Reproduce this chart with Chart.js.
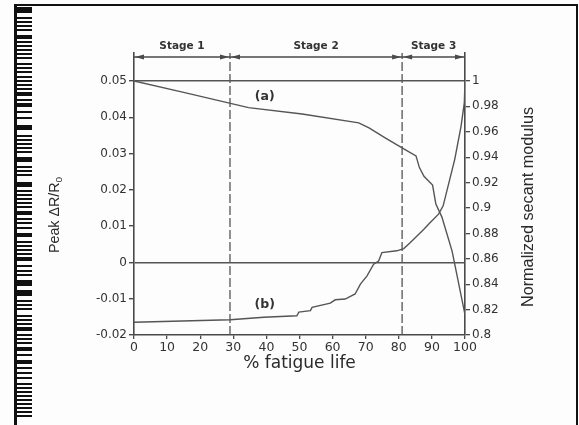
<!DOCTYPE html>
<html>
<head>
<meta charset="utf-8">
<script src="https://cdn.jsdelivr.net/npm/chart.js@4.4.1/dist/chart.umd.min.js"></script>
<style>
  html, body { margin: 0; padding: 0; background: #fdfdfd; }
  canvas { display: block; }
</style>
</head>
<body>
<canvas id="fatigueChart" width="579" height="425"></canvas>
<script>
// curve (a): normalized secant modulus vs % fatigue life
const lifeA = [0, 15, 29.8, 34.6, 50.8, 67.9, 71, 76, 81.9, 85.2, 86.2, 87.6, 90.2, 91.2, 93, 96.1, 100];
const secantModulus = [1, 0.991, 0.982, 0.979, 0.974, 0.967, 0.963, 0.955, 0.946, 0.941, 0.932, 0.925, 0.918, 0.903, 0.893, 0.866, 0.816];

// curve (b): peak dR/R0 vs % fatigue life
const lifeB = [0, 29.1, 39.2, 49.2, 49.8, 53.3, 53.8, 59.3, 60.8, 63.8, 66.8, 68.4, 70.4, 72.4, 73.9, 74.9, 79.4, 81.5, 83.5, 85.5, 87.5, 89.5, 92, 93.4, 96.9, 98.8, 99.8, 100];
const peakDeltaR = [-0.0165, -0.0158, -0.0151, -0.0147, -0.0137, -0.0133, -0.0124, -0.0112, -0.0103, -0.0101, -0.0087, -0.006, -0.0037, -0.0005, 0.0004, 0.0027, 0.0032, 0.0038, 0.0055, 0.0073, 0.0091, 0.011, 0.0133, 0.0156, 0.0284, 0.0375, 0.044, 0.05];

// stage boundaries (% fatigue life)
const stageBounds = [0, 29, 81, 100];
const stageNames = ['Stage 1', 'Stage 2', 'Stage 3'];

const lifeTicks = [0, 10, 20, 30, 40, 50, 60, 70, 80, 90, 100];
const leftTicks = [-0.02, -0.01, 0, 0.01, 0.02, 0.03, 0.04, 0.05];
const rightTicks = [0.8, 0.82, 0.84, 0.86, 0.88, 0.9, 0.92, 0.94, 0.96, 0.98, 1];

// axes run a little past 0.05 / 1 so the stage bar fits above the top line
const leftTop = 0.0577;
const rightTop = 1.022;

const ink = '#4a4a4a';
const tickFont = { family: 'DejaVu Sans', size: 12 };

const toPoints = (xs, ys) => xs.map((x, i) => ({ x: x, y: ys[i] }));
const fmt = v => String(+v.toFixed(2));
const near = (a, b) => Math.abs(a - b) < 1e-9;

// vertical text reading bottom-to-top, squeezed to a given length
function drawUpText(ctx, parts, cx, cy, len, font) {
  ctx.save();
  ctx.font = font;
  let w = 0;
  parts.forEach(p => { w += ctx.measureText(p.t).width * (p.sub ? 0.7 : 1); });
  ctx.translate(cx, cy);
  ctx.rotate(-Math.PI / 2);
  ctx.scale(len / w, 1);
  ctx.textBaseline = 'middle';
  ctx.fillStyle = '#2a2a2a';
  let x = -w / 2;
  parts.forEach(p => {
    if (p.sub) {
      ctx.save();
      ctx.translate(x, 4);
      ctx.scale(0.7, 0.7);
      ctx.fillText(p.t, 0, 0);
      ctx.restore();
      x += ctx.measureText(p.t).width * 0.7;
    } else {
      ctx.fillText(p.t, x, 0);
      x += ctx.measureText(p.t).width;
    }
  });
  ctx.restore();
}

function arrowHead(ctx, tipX, y, dir) {
  ctx.beginPath();
  ctx.moveTo(tipX, y);
  ctx.lineTo(tipX + dir * 9, y - 2.5);
  ctx.lineTo(tipX + dir * 9, y + 2.5);
  ctx.closePath();
  ctx.fill();
}

const decorPlugin = {
  id: 'decor',
  beforeDraw(chart) {
    const ctx = chart.ctx;
    ctx.save();
    ctx.fillStyle = '#fdfdfd';
    ctx.fillRect(0, 0, chart.width, chart.height);
    ctx.restore();
  },
  afterDraw(chart) {
    const ctx = chart.ctx;
    const area = chart.chartArea;
    const xs = chart.scales.x;
    const ys = chart.scales.y;

    ctx.save();
    // scanned page edge: frame and bar marks down the left side
    ctx.fillStyle = '#111';
    const marks = [[7,6],[17,2],[21,2],[25,2],[29,2],[35,4],[41,2],[45,2],[49,2],[53,2],[57,2],[63,2],[67,2],[71,2],[76,2],[80,2],[84,2],[88,2],[92,4],[99,2],[103,4],[111,2],[117,2],[125,5],[135,2],[139,2],[143,2],[147,2],[151,2],[157,5],[166,2],[170,2],[174,2],[182,5],[190,2],[194,2],[198,2],[202,2],[206,2],[211,4],[218,2],[222,2],[227,2],[233,4],[241,2],[245,2],[249,2],[253,2],[257,4],[265,2],[270,2],[274,2],[280,6],[290,6],[300,2],[304,2],[308,2],[315,2],[319,2],[323,2],[327,4],[334,2],[338,2],[342,2],[347,4],[354,2],[360,4],[367,2],[372,2],[377,2],[383,2],[387,2],[391,2],[395,2],[399,2],[403,2],[407,2],[411,2],[415,2]];
    marks.forEach(m => ctx.fillRect(15, m[0], 17, m[1]));
    ctx.fillRect(14, 5, 3, 420);
    ctx.fillRect(14, 4, 564, 2);
    ctx.fillRect(576, 4, 2, 421);

    // stage bar with arrows
    const barY = area.top + 4;
    ctx.strokeStyle = ink;
    ctx.fillStyle = ink;
    ctx.lineWidth = 1.5;
    ctx.beginPath();
    ctx.moveTo(xs.getPixelForValue(stageBounds[0]), barY);
    ctx.lineTo(xs.getPixelForValue(stageBounds[stageBounds.length - 1]), barY);
    ctx.stroke();
    stageBounds.forEach((b, i) => {
      const px = xs.getPixelForValue(b);
      if (i > 0) arrowHead(ctx, px - 1, barY, -1);
      if (i < stageBounds.length - 1) arrowHead(ctx, px + 1, barY, 1);
    });
    ctx.font = 'bold 10.5px "DejaVu Sans"';
    ctx.fillStyle = '#333';
    ctx.textAlign = 'center';
    ctx.textBaseline = 'middle';
    stageNames.forEach((name, i) => {
      const mid = (xs.getPixelForValue(stageBounds[i]) + xs.getPixelForValue(stageBounds[i + 1])) / 2;
      ctx.fillText(name, mid, area.top - 7);
    });

    // curve tags
    ctx.font = 'bold 12.5px "DejaVu Sans"';
    ctx.fillText('(a)', xs.getPixelForValue(39.5), ys.getPixelForValue(0.0456));
    ctx.fillText('(b)', xs.getPixelForValue(39.5), ys.getPixelForValue(-0.0117));

    // axis titles
    ctx.font = '17px "DejaVu Sans"';
    ctx.fillStyle = '#2a2a2a';
    ctx.fillText('% fatigue life', (area.left + area.right) / 2, 364);
    ctx.restore();

    drawUpText(ctx, [{ t: 'Peak ΔR/R' }, { t: '0', sub: true }], 55, 215, 76, '14px "Liberation Sans"');
    drawUpText(ctx, [{ t: 'Normalized secant modulus' }], 528, 207, 200, '17px "Liberation Sans"');
  }
};

const ctx = document.getElementById('fatigueChart').getContext('2d');
const chart = new Chart(ctx, {
  type: 'line',
  data: {
    datasets: [
      {
        label: 'Normalized secant modulus',
        data: toPoints(lifeA, secantModulus),
        yAxisID: 'y2',
        borderColor: '#555',
        borderWidth: 1.4
      },
      {
        label: 'Peak dR/R0',
        data: toPoints(lifeB, peakDeltaR),
        yAxisID: 'y',
        borderColor: '#555',
        borderWidth: 1.4
      },
      {
        label: 'Stage 1/2',
        data: [{ x: stageBounds[1], y: -0.02 }, { x: stageBounds[1], y: leftTop }],
        yAxisID: 'y',
        borderColor: '#555',
        borderWidth: 1.3,
        borderDash: [9, 3]
      },
      {
        label: 'Stage 2/3',
        data: [{ x: stageBounds[2], y: -0.02 }, { x: stageBounds[2], y: leftTop }],
        yAxisID: 'y',
        borderColor: '#555',
        borderWidth: 1.3,
        borderDash: [9, 3]
      }
    ]
  },
  options: {
    responsive: false,
    animation: false,
    events: [],
    layout: { padding: { top: 53, left: 0, right: 0, bottom: 0 } },
    elements: {
      point: { radius: 0 },
      line: { tension: 0, fill: false }
    },
    plugins: {
      legend: { display: false },
      tooltip: { enabled: false }
    },
    scales: {
      x: {
        type: 'linear',
        min: 0,
        max: 100,
        afterFit: scale => { scale.height = 90; },
        afterBuildTicks: scale => { scale.ticks = lifeTicks.map(v => ({ value: v })); },
        ticks: { color: '#333', font: { family: 'DejaVu Sans', size: 12.5 }, padding: 1, maxRotation: 0, callback: v => String(v) },
        grid: { drawOnChartArea: false, tickLength: 4, tickColor: ink, lineWidth: 1.3 },
        border: { color: ink, width: 1.6 }
      },
      y: {
        position: 'left',
        min: -0.02,
        max: leftTop,
        afterFit: scale => { scale.width = 134; },
        afterBuildTicks: scale => { scale.ticks = leftTicks.map(v => ({ value: v })); },
        ticks: { color: '#333', font: tickFont, padding: 2, callback: v => fmt(v) },
        grid: {
          color: c => (c.tick && (near(c.tick.value, 0) || near(c.tick.value, 0.05))) ? '#555' : 'rgba(0,0,0,0)',
          lineWidth: 1.4,
          tickLength: 5,
          tickColor: ink
        },
        border: { color: ink, width: 1.6 }
      },
      y2: {
        position: 'right',
        min: 0.8,
        max: rightTop,
        afterFit: scale => { scale.width = 114; },
        afterBuildTicks: scale => { scale.ticks = rightTicks.map(v => ({ value: v })); },
        ticks: { color: '#333', font: tickFont, padding: 2, callback: v => fmt(v) },
        grid: { drawOnChartArea: false, tickLength: 5, tickColor: ink, lineWidth: 1.3 },
        border: { color: ink, width: 1.6 }
      }
    }
  },
  plugins: [decorPlugin]
});
</script>
</body>
</html>
